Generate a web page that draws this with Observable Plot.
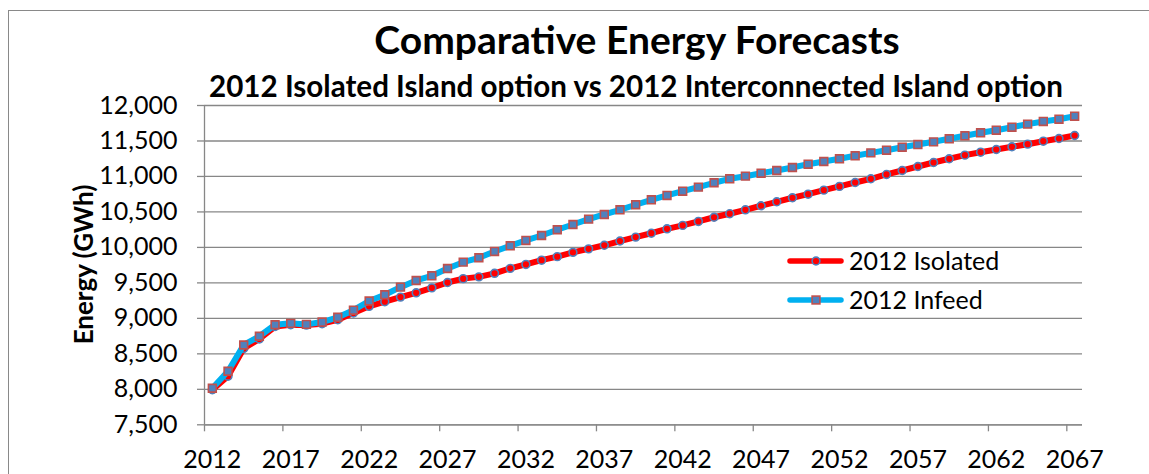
<!DOCTYPE html>
<html><head><meta charset="utf-8">
<script src="https://cdn.jsdelivr.net/npm/d3@7"></script>
<script src="https://cdn.jsdelivr.net/npm/@observablehq/plot@0.6"></script>
<style>body{margin:0;background:#fff} svg{display:block}</style>
</head><body><div id="chart"></div>
<script>
const years = [2012,2013,2014,2015,2016,2017,2018,2019,2020,2021,2022,2023,2024,2025,2026,2027,2028,2029,2030,2031,2032,2033,2034,2035,2036,2037,2038,2039,2040,2041,2042,2043,2044,2045,2046,2047,2048,2049,2050,2051,2052,2053,2054,2055,2056,2057,2058,2059,2060,2061,2062,2063,2064,2065,2066,2067];
const isolated = [7995,8185,8575,8710,8885,8910,8905,8925,8980,9075,9170,9235,9300,9360,9430,9505,9560,9585,9635,9705,9760,9820,9870,9930,9980,10030,10090,10145,10200,10262,10310,10366,10425,10475,10530,10587,10643,10700,10750,10807,10860,10915,10967,11028,11084,11140,11197,11249,11300,11342,11380,11418,11455,11497,11535,11577];
const infeed = [8015,8255,8625,8748,8910,8930,8915,8948,9015,9115,9245,9333,9440,9534,9600,9703,9792,9854,9943,10023,10098,10168,10249,10323,10398,10464,10530,10601,10671,10732,10792,10849,10911,10967,11004,11046,11084,11126,11173,11211,11249,11291,11333,11370,11412,11450,11488,11531,11573,11615,11652,11694,11737,11775,11807,11849];
const yTicks = [7500,8000,8500,9000,9500,10000,10500,11000,11500,12000];
const xTickLabels = [2012,2017,2022,2027,2032,2037,2042,2047,2052,2057,2062,2067];
const xTickMarks = [2011.5,2016.5,2021.5,2026.5,2031.5,2036.5,2041.5,2046.5,2051.5,2056.5,2061.5,2066.5];
const seriesNames = ["2012 Isolated", "2012 Infeed"];
const titleText = "Comparative Energy Forecasts";
const subtitleText = "2012 Isolated Island option vs 2012 Interconnected Island option";
const yLabel = "Energy (GWh)";

const data = years.map((year, i) => ({year, isolated: isolated[i], infeed: infeed[i]}));
const GRID = "#878787";
const RED = "#FF0000", CYAN = "#00B0F0", STEEL = "#4F81BD", BRICK = "#C0504D";
const FS = 25;

const chart = Plot.plot({
  width: 1149, height: 474,
  marginLeft: 204, marginRight: 67, marginTop: 105, marginBottom: 49.7,
  style: {fontFamily: "Lato", fontSize: FS + "px", color: "#000", background: "#fff"},
  x: {domain: [2011.5, 2067.5]},
  y: {domain: [7500, 12000]},
  marks: [
    Plot.gridY(yTicks, {stroke: GRID, strokeOpacity: 1, strokeWidth: 1.3}),
    Plot.axisY(yTicks, {tickSize: 7, tickPadding: 20, tickFormat: d3.format(","), stroke: GRID, strokeOpacity: 1, strokeWidth: 1.3, label: null}),
    Plot.axisX(xTickMarks, {tickSize: 7, tickFormat: () => "", stroke: GRID, strokeOpacity: 1, strokeWidth: 1.3, label: null}),
    Plot.axisX(xTickLabels, {tickSize: 0, tickPadding: 25, tickFormat: d => String(d), label: null}),
    Plot.ruleX([2011.5], {stroke: GRID, strokeWidth: 1.3}),
    Plot.ruleY([7500], {stroke: GRID, strokeWidth: 1.3}),
    Plot.line(data, {x: "year", y: "isolated", stroke: RED, strokeWidth: 6, strokeLinejoin: "round", strokeLinecap: "round"}),
    Plot.dot(data, {x: "year", y: "isolated", r: 3.9, fill: RED, stroke: STEEL, strokeWidth: 1.6}),
    Plot.line(data, {x: "year", y: "infeed", stroke: CYAN, strokeWidth: 6, strokeLinejoin: "round", strokeLinecap: "round"}),
    Plot.dot(data, {x: "year", y: "infeed", symbol: "square", r: 4.4, fill: STEEL, stroke: BRICK, strokeWidth: 1.6})
  ]
});
document.getElementById("chart").append(chart);

const svg = d3.select(chart);
svg.append("rect").attr("x", 8.5).attr("y", 10.5).attr("width", 1150).attr("height", 480)
  .attr("fill", "none").attr("stroke", "#898989").attr("stroke-width", 1);
svg.append("text").text(titleText).attr("x", 637).attr("y", 54.3).attr("text-anchor", "middle")
  .attr("font-family", "Lato").attr("font-weight", "bold").attr("font-size", 39).attr("fill", "#000");
svg.append("text").text(subtitleText).attr("x", 636).attr("y", 96.7).attr("text-anchor", "middle")
  .attr("font-family", "Lato").attr("font-weight", "bold").attr("font-size", 29.6).attr("fill", "#000");
svg.append("text").text(yLabel).attr("transform", "translate(93,264.5) rotate(-90)").attr("text-anchor", "middle")
  .attr("font-family", "Lato").attr("font-weight", "bold").attr("font-size", 26).attr("fill", "#000");

const leg = svg.append("g");
const legRows = [
  {name: seriesNames[0], y: 261, color: RED, sym: "circle"},
  {name: seriesNames[1], y: 300, color: CYAN, sym: "square"}
];
legRows.forEach(r => {
  leg.append("line").attr("x1", 790).attr("x2", 841).attr("y1", r.y).attr("y2", r.y)
    .attr("stroke", r.color).attr("stroke-width", 5.5).attr("stroke-linecap", "round");
  if (r.sym === "circle") {
    leg.append("circle").attr("cx", 816).attr("cy", r.y).attr("r", 3.9).attr("fill", RED).attr("stroke", STEEL).attr("stroke-width", 1.6);
  } else {
    leg.append("rect").attr("x", 816 - 3.9).attr("y", r.y - 3.9).attr("width", 7.8).attr("height", 7.8).attr("fill", STEEL).attr("stroke", BRICK).attr("stroke-width", 1.6);
  }
  leg.append("text").text(r.name).attr("x", 849).attr("y", r.y + 8.5).attr("text-anchor", "start")
    .attr("font-family", "Lato").attr("font-size", FS).attr("fill", "#000");
});
</script>
</body></html>
